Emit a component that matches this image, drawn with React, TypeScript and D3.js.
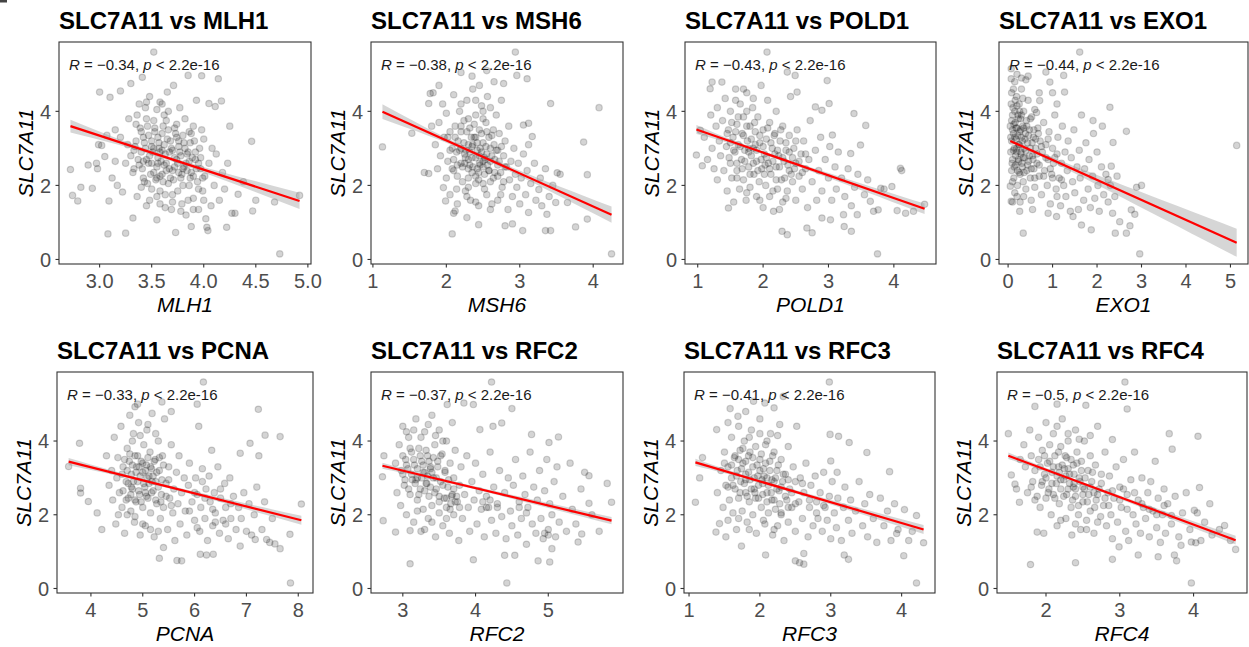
import * as d3 from 'd3';

const W = 1249;
const H = 647;

// one panel per gene, SLC7A11 on the y axis in every panel
const genes = ['MLH1', 'MSH6', 'POLD1', 'EXO1', 'PCNA', 'RFC2', 'RFC3', 'RFC4'];
const rValues = ['−0.34', '−0.38', '−0.43', '−0.44', '−0.33', '−0.37', '−0.41', '−0.5'];
const pText = '2.2e-16';

const xTickLabels = [
  ['3.0', '3.5', '4.0', '4.5', '5.0'],
  ['1', '2', '3', '4'],
  ['1', '2', '3', '4'],
  ['0', '1', '2', '3', '4', '5'],
  ['4', '5', '6', '7', '8'],
  ['3', '4', '5'],
  ['1', '2', '3', '4'],
  ['2', '3', '4'],
];
const yTickLabels = ['0', '2', '4'];

// fitted line ends: x0, y0, x1, y1
const fitLines = [
  [2.72, 3.6, 4.92, 1.58],
  [1.13, 3.99, 4.25, 1.21],
  [0.98, 3.51, 4.47, 1.37],
  [0.05, 3.2, 5.14, 0.45],
  [3.57, 3.44, 8.06, 1.85],
  [2.72, 3.33, 5.87, 1.84],
  [1.09, 3.42, 4.31, 1.6],
  [1.49, 3.6, 4.57, 1.31],
];
// confidence band half width: left end, middle x, middle, right end
const ciWidths = [
  [0.17, 3.65, 0.05, 0.22],
  [0.2, 2.45, 0.05, 0.22],
  [0.12, 2.1, 0.04, 0.14],
  [0.1, 0.8, 0.05, 0.38],
  [0.1, 5.4, 0.04, 0.12],
  [0.08, 3.9, 0.04, 0.1],
  [0.1, 2.2, 0.04, 0.12],
  [0.09, 2.6, 0.04, 0.12],
];

const mlh1Points: [number, number][] = [
  [2.72, 2.43], [2.74, 1.73], [2.79, 1.58], [2.82, 1.95], [2.89, 2.55], [2.93, 1.92], [2.97, 2.6], [2.99, 3.1],
  [3.0, 4.52], [3.02, 3.08], [2.98, 2.45], [3.05, 2.78], [3.07, 3.35], [3.08, 0.69], [3.09, 1.58], [3.1, 4.38],
  [3.12, 2.2], [3.15, 3.5], [3.17, 2.0], [3.2, 4.55], [3.22, 1.82], [3.25, 0.71], [3.27, 3.1], [3.3, 4.75],
  [3.32, 1.12], [3.33, 2.45], [3.35, 3.65], [3.36, 1.7], [3.38, 4.2], [3.4, 2.9], [3.41, 4.92], [3.42, 3.3],
  [3.43, 2.1], [3.45, 1.45], [3.45, 3.8], [3.47, 2.6], [3.48, 4.4], [3.5, 3.2], [3.5, 1.9], [3.52, 5.6],
  [3.52, 2.35], [3.53, 3.55], [3.55, 4.05], [3.55, 1.07], [3.56, 2.75], [3.57, 3.0], [3.58, 2.25], [3.58, 1.5],
  [3.6, 3.4], [3.6, 4.2], [3.62, 2.55], [3.63, 1.75], [3.64, 3.75], [3.65, 4.52], [3.66, 2.05], [3.67, 2.9],
  [3.68, 3.2], [3.69, 1.35], [3.7, 2.4], [3.71, 4.7], [3.72, 3.55], [3.73, 0.73], [3.74, 2.7], [3.75, 1.85],
  [3.76, 3.05], [3.77, 4.1], [3.78, 2.2], [3.79, 1.5], [3.8, 3.35], [3.81, 2.5], [3.82, 3.8], [3.83, 1.2],
  [3.84, 2.85], [3.85, 4.97], [3.86, 2.0], [3.87, 3.15], [3.88, 0.89], [3.88, 2.35], [3.9, 1.65], [3.9, 3.6],
  [3.92, 2.7], [3.93, 4.3], [3.94, 2.1], [3.95, 1.35], [3.96, 3.0], [3.97, 2.45], [3.98, 4.96], [3.99, 1.85],
  [4.0, 3.25], [4.01, 2.25], [4.02, 1.1], [4.03, 0.87], [4.04, 0.78], [4.05, 4.21], [4.05, 2.6], [4.07, 1.45],
  [4.08, 3.0], [4.1, 2.0], [4.11, 4.13], [4.12, 2.85], [4.14, 4.88], [4.15, 1.6], [4.17, 4.28], [4.18, 2.35],
  [4.2, 1.9], [4.22, 0.87], [4.23, 2.6], [4.25, 3.6], [4.27, 1.25], [4.3, 1.25], [4.33, 1.76], [4.38, 2.1],
  [4.46, 3.19], [4.47, 1.31], [4.5, 1.6], [4.68, 1.55], [4.73, 0.15], [4.92, 1.73],
  [3.3, 2.8], [3.35, 3.2], [3.38, 2.55], [3.4, 3.45], [3.42, 2.2], [3.44, 3.0], [3.46, 3.6], [3.48, 2.8],
  [3.5, 2.6], [3.52, 3.0], [3.54, 2.15], [3.56, 3.3], [3.58, 2.9], [3.6, 2.3], [3.62, 3.1], [3.64, 2.6],
  [3.66, 3.5], [3.68, 2.2], [3.7, 2.95], [3.72, 2.5], [3.74, 3.3], [3.76, 2.35], [3.78, 2.8], [3.8, 2.0],
  [3.82, 3.0], [3.84, 2.4], [3.86, 2.65], [3.88, 3.4], [3.9, 2.25], [3.92, 2.9], [3.36, 3.9], [3.44, 4.1],
  [3.62, 3.9], [3.7, 1.75], [3.58, 1.85], [3.48, 1.6], [3.95, 2.6], [3.98, 3.5], [3.25, 2.6], [3.28, 3.8],
  [3.2, 3.3], [3.15, 2.65],
  [3.32, 2.35], [3.34, 3.05], [3.37, 2.7], [3.39, 3.55], [3.41, 2.45], [3.43, 3.15], [3.45, 2.7], [3.47, 3.35],
  [3.49, 2.3], [3.51, 2.9], [3.53, 3.45], [3.55, 2.5], [3.55, 2.2], [3.57, 3.15], [3.59, 2.65], [3.61, 3.6],
  [3.61, 2.1], [3.63, 2.85], [3.65, 3.25], [3.67, 2.45], [3.69, 3.0], [3.71, 2.15], [3.73, 3.4], [3.75, 2.6],
  [3.77, 2.9], [3.79, 2.3], [3.81, 3.15], [3.83, 2.6], [3.85, 2.9], [3.87, 2.2], [3.89, 2.75], [3.91, 3.2],
  [3.93, 2.45], [3.95, 1.9], [3.97, 2.75], [3.99, 2.2], [3.58, 4.25], [3.45, 4.25], [3.66, 4.0], [3.52, 3.75],
  [3.74, 3.65], [3.86, 3.45], [3.4, 1.95], [3.55, 1.7], [3.7, 1.55], [3.85, 1.6], [3.78, 1.3], [3.63, 1.4],
  [3.9, 1.35], [4.0, 1.6], [3.33, 2.95], [3.46, 2.05], [3.6, 2.95], [3.72, 2.75], [3.8, 2.45], [3.5, 3.05],
  [3.64, 2.4], [3.56, 2.6], [3.76, 3.2], [3.42, 2.65],
];

const msh6Points: [number, number][] = [
  [1.13, 3.04], [1.53, 3.41], [1.76, 2.32], [1.76, 4.21], [1.78, 4.48], [1.9, 4.7], [1.96, 1.94], [1.99, 1.58],
  [2.08, 0.69], [2.12, 1.31], [2.28, 1.13], [2.44, 0.94], [2.94, 5.6], [2.96, 4.97], [2.78, 4.75], [3.1, 4.88],
  [3.05, 3.63], [3.12, 3.68], [3.17, 3.32], [3.12, 3.1], [3.04, 0.78], [2.9, 0.96], [2.8, 0.91], [3.12, 1.27],
  [3.26, 1.89], [3.35, 0.78], [3.42, 0.78], [3.37, 1.22], [3.42, 4.21], [3.51, 2.34], [3.49, 1.54], [3.65, 1.54],
  [3.76, 0.88], [3.87, 3.17], [3.92, 2.29], [3.92, 1.09], [4.08, 4.1], [4.25, 0.15],
  [1.85, 3.1], [1.88, 2.45], [1.9, 3.7], [1.92, 2.8], [1.95, 4.2], [1.97, 3.3], [2.0, 2.2], [2.0, 3.95],
  [2.02, 2.65], [2.05, 3.45], [2.05, 1.75], [2.08, 3.0], [2.1, 4.45], [2.1, 2.4], [2.12, 3.6], [2.14, 2.9],
  [2.15, 1.5], [2.16, 3.2], [2.18, 4.0], [2.2, 2.6], [2.2, 3.45], [2.22, 2.1], [2.24, 3.75], [2.25, 2.85],
  [2.26, 1.85], [2.28, 4.3], [2.3, 3.1], [2.3, 2.45], [2.32, 3.55], [2.33, 1.6], [2.35, 2.75], [2.36, 4.6],
  [2.38, 3.3], [2.4, 2.25], [2.4, 3.9], [2.42, 2.95], [2.44, 1.45], [2.45, 3.5], [2.46, 2.55], [2.48, 4.15],
  [2.5, 2.05], [2.5, 3.15], [2.52, 2.75], [2.54, 3.7], [2.55, 1.75], [2.56, 4.4], [2.58, 2.4], [2.6, 3.0],
  [2.6, 1.35], [2.62, 3.35], [2.64, 2.2], [2.65, 4.8], [2.66, 2.7], [2.68, 3.9], [2.7, 1.6], [2.7, 2.95],
  [2.72, 3.4], [2.74, 2.35], [2.75, 4.3], [2.76, 1.95], [2.78, 2.8], [2.8, 3.2], [2.82, 2.5], [2.84, 1.35],
  [2.85, 3.6], [2.86, 2.15], [2.88, 2.65], [2.9, 1.7], [2.92, 3.0], [2.94, 2.3], [2.96, 1.95], [2.98, 2.6],
  [3.0, 1.5], [3.02, 2.2], [3.05, 2.85], [3.08, 1.75], [3.1, 2.4], [3.15, 2.05], [3.2, 2.6], [3.22, 1.6],
  [3.28, 2.2], [3.3, 1.45], [3.35, 2.45], [3.4, 1.7], [3.45, 2.0], [3.55, 2.3], [2.2, 5.05], [2.35, 4.95],
  [2.45, 4.7], [2.55, 5.1], [2.1, 1.25], [2.3, 1.95], [2.4, 3.3], [2.5, 2.5], [2.3, 2.7], [2.2, 3.0],
  [2.5, 3.8], [2.6, 2.65], [2.7, 2.55], [2.4, 2.05], [2.15, 2.55], [2.35, 3.05], [2.45, 2.8], [2.55, 3.45],
  [2.65, 3.1], [1.8, 3.6], [1.82, 4.5], [1.7, 2.35],
  [2.1, 2.7], [2.12, 3.3], [2.15, 2.25], [2.18, 2.95], [2.2, 3.6], [2.22, 2.5], [2.24, 3.15], [2.26, 2.75],
  [2.28, 3.45], [2.3, 2.2], [2.32, 2.9], [2.34, 3.3], [2.36, 2.5], [2.38, 3.65], [2.4, 2.75], [2.42, 3.15],
  [2.44, 2.35], [2.46, 3.0], [2.48, 3.4], [2.5, 2.65], [2.52, 2.3], [2.54, 3.05], [2.56, 2.55], [2.58, 3.3],
  [2.6, 2.1], [2.62, 2.8], [2.64, 3.5], [2.66, 2.35], [2.68, 2.95], [2.7, 2.25], [2.72, 2.65], [2.75, 3.05],
  [2.78, 2.1], [2.8, 2.5], [2.25, 2.6], [2.35, 2.35], [2.45, 2.6], [2.55, 2.85], [2.3, 3.8], [2.4, 4.3],
  [2.5, 4.0], [2.2, 4.2], [2.6, 4.1], [2.28, 1.7], [2.4, 1.55], [2.52, 1.9], [2.62, 1.5], [2.74, 1.75],
  [2.14, 1.9], [2.05, 2.95], [2.08, 2.45], [2.02, 3.3], [2.44, 2.15], [2.36, 3.1], [2.48, 2.9], [2.58, 2.4],
  [2.32, 2.55], [2.42, 2.45], [2.27, 2.95], [2.53, 2.7],
];

const pold1Points: [number, number][] = [
  [0.98, 2.82], [1.04, 3.49], [1.07, 2.53], [1.19, 4.61], [1.22, 4.79], [1.37, 4.79], [1.47, 1.39], [2.06, 5.6],
  [2.37, 5.06], [2.49, 4.97], [2.52, 4.52], [2.98, 4.83], [3.01, 4.21], [2.8, 4.12], [2.9, 4.03], [3.39, 3.94],
  [3.57, 3.62], [3.49, 3.09], [3.34, 2.86], [3.06, 3.36], [2.29, 0.76], [2.37, 0.67], [2.67, 0.85], [2.75, 0.72],
  [2.9, 1.12], [3.03, 1.07], [3.24, 0.89], [3.35, 0.76], [3.23, 1.21], [3.44, 1.21], [3.64, 1.57], [3.69, 1.3],
  [3.76, 1.34], [3.75, 0.15], [3.8, 1.92], [3.97, 1.97], [4.1, 2.46], [4.05, 1.32], [4.18, 1.25], [4.47, 1.49],
  [1.1, 3.3], [1.15, 2.7], [1.2, 3.9], [1.22, 3.0], [1.25, 2.45], [1.28, 3.6], [1.3, 4.1], [1.3, 2.15],
  [1.33, 3.2], [1.35, 2.8], [1.38, 3.75], [1.4, 2.4], [1.42, 4.35], [1.44, 3.05], [1.45, 1.85], [1.47, 3.5],
  [1.5, 2.6], [1.5, 4.0], [1.52, 2.2], [1.54, 3.3], [1.55, 1.55], [1.57, 2.9], [1.58, 4.6], [1.6, 3.65],
  [1.6, 2.4], [1.62, 3.1], [1.64, 1.9], [1.65, 4.2], [1.67, 2.7], [1.68, 3.4], [1.7, 2.15], [1.7, 3.85],
  [1.72, 2.95], [1.74, 1.6], [1.75, 4.5], [1.76, 3.2], [1.78, 2.5], [1.8, 3.6], [1.8, 1.95], [1.82, 2.8],
  [1.84, 4.1], [1.85, 3.0], [1.86, 2.3], [1.88, 3.45], [1.9, 1.7], [1.9, 2.65], [1.92, 3.85], [1.94, 2.1],
  [1.95, 3.15], [1.97, 4.7], [1.98, 2.45], [2.0, 3.5], [2.0, 1.4], [2.02, 2.85], [2.04, 2.0], [2.05, 3.25],
  [2.07, 4.3], [2.08, 2.6], [2.1, 3.7], [2.1, 1.7], [2.12, 2.3], [2.14, 3.0], [2.16, 1.3], [2.18, 3.4],
  [2.2, 2.5], [2.2, 4.0], [2.22, 1.9], [2.24, 2.8], [2.26, 3.2], [2.28, 2.15], [2.3, 3.6], [2.3, 1.55],
  [2.32, 2.65], [2.35, 2.95], [2.37, 1.85], [2.4, 3.35], [2.4, 2.4], [2.42, 4.4], [2.45, 2.1], [2.47, 3.0],
  [2.5, 1.6], [2.5, 2.6], [2.52, 3.5], [2.55, 2.25], [2.58, 2.85], [2.6, 1.9], [2.62, 3.2], [2.65, 2.45],
  [2.68, 1.4], [2.7, 2.7], [2.72, 3.75], [2.75, 2.1], [2.8, 2.95], [2.82, 1.6], [2.85, 2.4], [2.88, 3.3],
  [2.9, 1.85], [2.95, 2.7], [3.0, 2.2], [3.02, 3.05], [3.05, 1.6], [3.1, 2.5], [3.12, 1.9], [3.15, 2.9],
  [3.2, 2.2], [3.25, 1.7], [3.3, 2.45], [3.35, 1.45], [3.4, 1.95], [3.45, 2.3], [3.55, 1.75], [3.6, 2.15],
  [3.85, 1.9], [4.3, 1.3], [4.12, 2.4],
  [1.45, 3.4], [1.48, 2.75], [1.52, 3.7], [1.55, 2.95], [1.58, 3.45], [1.6, 2.6], [1.62, 3.85], [1.65, 3.05],
  [1.68, 2.45], [1.7, 3.35], [1.72, 2.65], [1.75, 3.6], [1.78, 2.9], [1.8, 2.3], [1.82, 3.25], [1.85, 2.6],
  [1.87, 3.7], [1.9, 2.95], [1.92, 2.4], [1.95, 3.35], [1.97, 2.7], [2.0, 3.05], [2.02, 2.3], [2.05, 2.75],
  [2.07, 3.55], [2.1, 2.45], [2.12, 3.15], [2.15, 2.65], [2.17, 3.35], [2.2, 2.15], [2.22, 2.95], [2.25, 2.5],
  [2.27, 3.5], [2.3, 2.75], [2.33, 2.2], [2.35, 3.15], [2.38, 2.55], [2.4, 2.9], [2.43, 2.3], [2.45, 2.75],
  [2.48, 2.45], [2.5, 3.2], [2.55, 2.65], [2.6, 2.35], [2.65, 2.85], [1.58, 4.3], [1.7, 4.6], [1.75, 4.0],
  [1.85, 4.35], [1.6, 2.2], [1.75, 1.8], [1.95, 1.6], [2.15, 1.85], [2.25, 1.35], [2.35, 1.65], [1.5, 3.15],
  [1.88, 3.1], [2.03, 2.55], [1.78, 3.0], [2.18, 2.85],
];

const exo1Points: [number, number][] = [
  [1.61, 5.6], [0.34, 0.71], [2.96, 0.15], [5.14, 3.08], [2.29, 4.11], [2.66, 0.71], [2.41, 0.71], [2.51, 1.02],
  [2.74, 0.91], [2.77, 1.34], [2.85, 1.22], [2.89, 1.95], [3.0, 2.0], [2.66, 3.46], [2.36, 3.16], [2.32, 2.52],
  [2.25, 2.16], [1.91, 3.75], [1.87, 0.8], [1.65, 0.93], [1.46, 1.16], [1.27, 4.52], [1.25, 4.97], [0.94, 4.79],
  [0.85, 5.06], [0.45, 4.95], [0.71, 4.29], [0.64, 3.97], [0.9, 1.25], [1.09, 1.16], [0.26, 1.3], [0.07, 1.57],
  [0.05, 1.98], [0.07, 4.88], [0.07, 5.15],
  [0.05, 3.6], [0.06, 2.9], [0.07, 4.2], [0.08, 3.2], [0.08, 2.4], [0.1, 3.9], [0.1, 2.7], [0.12, 4.6],
  [0.12, 3.4], [0.13, 2.2], [0.14, 3.0], [0.15, 4.0], [0.15, 1.8], [0.16, 3.7], [0.17, 2.55], [0.18, 3.25],
  [0.19, 4.4], [0.2, 2.9], [0.2, 3.55], [0.21, 2.0], [0.22, 3.9], [0.23, 2.7], [0.24, 3.1], [0.25, 4.2],
  [0.25, 2.35], [0.26, 3.45], [0.27, 1.55], [0.28, 3.8], [0.29, 2.85], [0.3, 3.3], [0.3, 4.6], [0.32, 2.5],
  [0.33, 3.6], [0.34, 2.1], [0.35, 4.0], [0.36, 3.0], [0.38, 2.75], [0.39, 3.4], [0.4, 1.9], [0.41, 3.75],
  [0.42, 2.4], [0.44, 3.15], [0.45, 4.3], [0.46, 2.65], [0.48, 3.5], [0.5, 2.2], [0.5, 3.0], [0.52, 1.6],
  [0.53, 3.85], [0.55, 2.8], [0.57, 3.3], [0.58, 2.45], [0.6, 4.05], [0.6, 1.95], [0.62, 3.0], [0.65, 2.6],
  [0.67, 3.55], [0.7, 2.25], [0.72, 3.2], [0.75, 1.75], [0.77, 2.9], [0.8, 3.7], [0.82, 2.4], [0.85, 3.1],
  [0.88, 2.0], [0.9, 2.7], [0.92, 3.45], [0.95, 1.5], [0.98, 2.3], [1.0, 3.0], [1.02, 2.6], [1.05, 3.9],
  [1.08, 1.9], [1.1, 2.85], [1.12, 3.3], [1.15, 2.2], [1.18, 1.45], [1.2, 2.6], [1.22, 3.6], [1.25, 2.0],
  [1.28, 2.9], [1.3, 1.7], [1.33, 2.4], [1.35, 3.2], [1.4, 1.3], [1.42, 2.75], [1.45, 2.1], [1.48, 3.5],
  [1.5, 1.8], [1.55, 2.5], [1.58, 1.35], [1.6, 2.95], [1.62, 2.2], [1.65, 3.9], [1.7, 1.6], [1.72, 2.45],
  [1.75, 3.15], [1.8, 1.9], [1.82, 2.7], [1.85, 1.4], [1.9, 2.25], [1.92, 3.4], [1.95, 1.65], [2.0, 2.9],
  [2.02, 2.0], [2.05, 1.3], [2.1, 2.5], [2.12, 3.6], [2.15, 1.75], [2.2, 2.3], [2.25, 1.55], [2.3, 2.0],
  [2.35, 1.25], [2.4, 1.7], [2.45, 2.25], [0.1, 1.55], [0.35, 1.7], [0.55, 1.35], [0.7, 4.5], [1.0, 4.5],
  [1.1, 4.2], [0.2, 5.0], [0.4, 4.85],
  [0.06, 3.3], [0.08, 3.75], [0.09, 2.6], [0.1, 3.5], [0.11, 4.1], [0.12, 2.95], [0.13, 3.65], [0.14, 2.5],
  [0.15, 3.3], [0.16, 4.3], [0.17, 2.8], [0.18, 3.55], [0.19, 3.0], [0.2, 4.15], [0.21, 2.4], [0.22, 3.35],
  [0.23, 3.8], [0.24, 2.65], [0.25, 3.1], [0.26, 4.0], [0.27, 2.3], [0.28, 3.5], [0.29, 2.9], [0.3, 3.9],
  [0.31, 2.6], [0.32, 3.2], [0.33, 4.35], [0.34, 2.75], [0.35, 3.55], [0.36, 2.35], [0.38, 3.25], [0.4, 2.95],
  [0.42, 3.6], [0.44, 2.55], [0.46, 3.35], [0.48, 2.8], [0.5, 3.8], [0.52, 2.45], [0.54, 3.15], [0.56, 2.7],
  [0.58, 3.5], [0.6, 2.2], [0.62, 3.25], [0.65, 2.85], [0.68, 3.4], [0.7, 2.55], [0.75, 3.05], [0.8, 2.25],
  [0.85, 2.75], [0.9, 3.25], [0.95, 2.45], [1.0, 2.2], [1.05, 2.75], [1.1, 1.7], [1.2, 2.15], [0.1, 2.1],
  [0.2, 1.7], [0.15, 4.8], [0.3, 4.9], [0.08, 4.5],
];

const pcnaPoints: [number, number][] = [
  [3.57, 3.31], [3.78, 3.94], [3.8, 2.72], [3.8, 2.59], [3.95, 2.36], [4.12, 2.05], [4.21, 1.6], [4.53, 2.0],
  [6.17, 5.6], [5.37, 5.06], [4.85, 4.93], [7.23, 4.86], [7.36, 4.16], [7.65, 4.12], [7.07, 3.94], [7.24, 3.6],
  [6.88, 3.67], [8.06, 2.29], [7.84, 1.47], [7.65, 1.08], [7.55, 1.21], [7.85, 0.15], [7.39, 1.33], [7.17, 1.33],
  [6.88, 1.15], [6.23, 0.91], [6.11, 0.93], [6.36, 0.93], [5.75, 0.75], [5.66, 0.76], [5.32, 0.82], [5.4, 1.11],
  [4.3, 3.6], [4.35, 2.8], [4.4, 3.2], [4.42, 2.4], [4.45, 4.1], [4.48, 1.75], [4.5, 3.0], [4.52, 3.55],
  [4.55, 2.6], [4.58, 4.4], [4.6, 2.2], [4.62, 3.3], [4.65, 1.5], [4.68, 2.9], [4.7, 3.8], [4.72, 2.45],
  [4.74, 3.45], [4.75, 4.7], [4.77, 2.1], [4.78, 3.1], [4.8, 2.7], [4.82, 4.2], [4.84, 1.8], [4.85, 3.6],
  [4.87, 2.35], [4.88, 3.3], [4.9, 2.9], [4.92, 4.5], [4.94, 2.55], [4.95, 1.45], [4.97, 3.45], [5.0, 2.2],
  [5.0, 3.15], [5.02, 3.9], [5.04, 2.75], [5.05, 1.7], [5.07, 3.35], [5.08, 4.3], [5.1, 2.45], [5.12, 3.05],
  [5.14, 3.7], [5.15, 2.05], [5.17, 3.25], [5.18, 4.75], [5.2, 2.65], [5.22, 1.4], [5.24, 3.5], [5.25, 2.9],
  [5.27, 2.3], [5.3, 4.0], [5.32, 3.2], [5.34, 1.9], [5.36, 2.55], [5.38, 3.6], [5.4, 2.2], [5.42, 4.6],
  [5.45, 2.85], [5.48, 1.6], [5.5, 3.3], [5.52, 2.45], [5.55, 3.9], [5.58, 2.05], [5.6, 2.7], [5.62, 1.3],
  [5.65, 3.15], [5.68, 2.3], [5.7, 3.6], [5.72, 1.75], [5.75, 2.6], [5.8, 3.0], [5.82, 2.1], [5.85, 1.45],
  [5.88, 2.8], [5.9, 3.4], [5.95, 2.35], [6.0, 1.85], [6.02, 3.0], [6.05, 2.55], [6.08, 4.4], [6.1, 1.55],
  [6.12, 2.2], [6.15, 3.25], [6.2, 1.9], [6.22, 2.7], [6.25, 1.3], [6.28, 3.05], [6.3, 2.35], [6.33, 3.75],
  [6.35, 1.7], [6.38, 2.6], [6.4, 2.05], [6.45, 3.3], [6.48, 1.5], [6.5, 2.45], [6.55, 1.85], [6.58, 2.85],
  [6.6, 2.2], [6.65, 1.35], [6.68, 3.0], [6.7, 1.9], [6.75, 2.5], [6.8, 1.6], [6.85, 2.2], [6.9, 1.9],
  [6.95, 2.6], [7.0, 1.55], [7.05, 2.3], [7.1, 1.45], [7.15, 2.0], [7.2, 2.75], [7.3, 1.6], [7.35, 2.35],
  [7.45, 1.25], [7.5, 1.9], [4.9, 5.0], [5.55, 4.8], [6.05, 5.0],
  [4.6, 3.1], [4.62, 2.65], [4.65, 3.5], [4.68, 2.4], [4.7, 3.2], [4.72, 2.85], [4.75, 3.65], [4.77, 2.55],
  [4.8, 3.35], [4.82, 2.9], [4.85, 2.4], [4.87, 3.15], [4.9, 3.6], [4.92, 2.65], [4.95, 3.05], [4.97, 2.35],
  [5.0, 3.4], [5.02, 2.85], [5.05, 3.2], [5.07, 2.5], [5.1, 3.55], [5.12, 2.85], [5.15, 3.3], [5.17, 2.6],
  [5.2, 3.05], [5.22, 3.45], [5.25, 2.4], [5.27, 3.15], [5.3, 2.75], [5.32, 3.55], [5.35, 2.35], [5.37, 2.95],
  [5.4, 3.35], [5.45, 2.5], [5.5, 2.95], [5.55, 2.25], [4.8, 4.0], [4.95, 4.15], [5.1, 4.45], [5.25, 4.2],
  [4.7, 2.0], [4.85, 1.95], [5.0, 1.75], [5.15, 1.6], [5.3, 1.55], [5.05, 2.6], [4.93, 3.3], [5.18, 2.9],
  [4.78, 2.75], [5.08, 3.0], [6.0, 2.6], [6.2, 2.45], [6.35, 2.15], [6.5, 2.7], [6.15, 2.9], [6.4, 1.8],
  [6.6, 1.75], [5.9, 2.1], [6.05, 1.65], [6.7, 2.3],
];

const rfc2Points: [number, number][] = [
  [2.72, 3.03], [2.73, 1.84], [2.74, 3.6], [2.9, 1.53], [3.1, 0.67], [3.1, 1.57], [4.22, 5.6], [3.61, 4.99],
  [3.84, 5.03], [3.97, 4.99], [4.5, 4.88], [4.36, 4.49], [4.24, 4.4], [4.06, 4.31], [4.77, 4.18], [5.14, 4.11],
  [5.01, 3.96], [4.43, 0.15], [4.4, 0.9], [4.54, 0.9], [3.97, 0.78], [4.86, 0.75], [5.02, 0.72], [5.05, 1.08],
  [5.87, 2.34], [5.81, 2.85], [5.56, 3.06], [5.56, 2.31], [5.41, 1.26], [5.46, 1.48],
  [2.9, 3.4], [2.92, 2.6], [2.95, 3.9], [2.97, 2.25], [3.0, 3.1], [3.0, 4.4], [3.02, 2.8], [3.04, 3.5],
  [3.05, 2.0], [3.07, 3.25], [3.08, 4.1], [3.1, 2.55], [3.12, 3.7], [3.13, 2.95], [3.15, 1.8], [3.16, 3.35],
  [3.18, 4.6], [3.2, 2.4], [3.2, 3.0], [3.22, 3.8], [3.24, 2.7], [3.25, 1.55], [3.26, 3.45], [3.28, 2.15],
  [3.3, 3.15], [3.3, 4.25], [3.32, 2.85], [3.34, 3.6], [3.35, 1.9], [3.36, 2.5], [3.38, 3.3], [3.4, 4.7],
  [3.4, 2.25], [3.42, 3.0], [3.44, 3.9], [3.45, 1.4], [3.46, 2.7], [3.48, 3.45], [3.5, 2.05], [3.5, 4.3],
  [3.52, 2.9], [3.54, 3.65], [3.55, 1.7], [3.57, 2.45], [3.58, 3.2], [3.6, 4.0], [3.6, 2.2], [3.62, 2.75],
  [3.64, 1.5], [3.65, 3.4], [3.67, 2.5], [3.68, 4.5], [3.7, 2.0], [3.7, 3.0], [3.72, 3.75], [3.75, 2.35],
  [3.77, 1.3], [3.78, 2.8], [3.8, 3.3], [3.82, 1.9], [3.85, 2.55], [3.88, 3.6], [3.9, 2.2], [3.92, 1.55],
  [3.95, 2.9], [3.98, 2.4], [4.0, 3.4], [4.02, 1.75], [4.05, 2.65], [4.08, 2.15], [4.1, 3.1], [4.12, 1.4],
  [4.15, 2.5], [4.18, 2.2], [4.2, 3.7], [4.22, 1.85], [4.25, 2.75], [4.28, 1.5], [4.3, 2.3], [4.33, 3.2],
  [4.36, 1.95], [4.4, 2.6], [4.42, 1.35], [4.45, 3.0], [4.48, 2.1], [4.5, 1.7], [4.52, 2.8], [4.55, 3.5],
  [4.58, 1.45], [4.6, 2.35], [4.63, 1.9], [4.65, 3.05], [4.68, 2.55], [4.7, 1.2], [4.72, 2.2], [4.75, 3.7],
  [4.78, 1.75], [4.8, 2.75], [4.83, 1.5], [4.85, 2.4], [4.88, 3.2], [4.9, 1.9], [4.93, 1.35], [4.95, 2.65],
  [4.98, 3.5], [5.0, 1.6], [5.02, 2.3], [5.05, 2.0], [5.08, 2.9], [5.1, 1.4], [5.12, 3.3], [5.15, 1.8],
  [5.2, 2.5], [5.25, 1.55], [5.3, 3.4], [5.33, 2.15], [5.38, 1.75], [5.45, 2.7], [5.5, 3.15], [5.6, 2.0],
  [5.7, 1.55],
  [2.98, 3.2], [3.0, 3.6], [3.03, 2.95], [3.05, 3.35], [3.08, 2.7], [3.1, 3.8], [3.12, 3.1], [3.15, 3.5],
  [3.17, 2.85], [3.2, 3.25], [3.22, 2.55], [3.24, 3.6], [3.26, 3.0], [3.28, 3.35], [3.3, 2.65], [3.32, 3.75],
  [3.34, 3.05], [3.36, 3.45], [3.38, 2.75], [3.4, 3.15], [3.42, 3.55], [3.44, 2.6], [3.46, 3.0], [3.48, 3.3],
  [3.5, 2.5], [3.52, 3.6], [3.55, 2.8], [3.58, 3.15], [3.6, 2.45], [3.63, 2.95], [3.66, 2.3], [3.7, 2.7],
  [3.74, 2.5], [3.78, 2.2], [3.25, 4.1], [3.45, 4.15], [3.35, 4.45], [3.15, 4.3], [3.55, 4.0], [3.05, 4.25],
  [3.2, 2.1], [3.4, 1.8], [3.6, 1.9], [3.3, 1.6], [3.5, 2.35], [3.65, 2.15], [3.72, 2.35], [3.68, 2.55],
  [4.1, 2.35], [4.15, 2.2], [4.2, 2.4], [4.3, 2.2], [4.6, 2.2], [4.7, 2.05], [5.0, 1.45], [4.95, 1.5],
  [3.18, 2.95], [3.33, 2.85], [3.28, 3.15], [3.38, 3.25],
];

const rfc3Points: [number, number][] = [
  [1.09, 2.34], [1.15, 3.0], [1.19, 3.55], [1.39, 4.31], [1.38, 1.53], [1.43, 1.76], [1.52, 1.4], [1.55, 1.85],
  [1.74, 1.15], [1.58, 4.88], [1.69, 4.67], [1.91, 5.08], [2.07, 5.03], [2.33, 5.21], [2.98, 5.6], [2.99, 4.18],
  [3.11, 4.13], [3.26, 3.96], [3.51, 3.69], [3.83, 3.17], [3.0, 3.46], [3.09, 3.15], [2.08, 0.91], [2.5, 0.75],
  [2.56, 0.7], [2.62, 0.66], [2.62, 0.95], [3.19, 0.91], [3.25, 0.79], [4.03, 0.89], [4.21, 0.15], [4.31, 1.24],
  [4.21, 1.98], [4.04, 2.14], [3.93, 1.49],
  [1.4, 2.6], [1.45, 3.2], [1.48, 2.2], [1.5, 3.7], [1.52, 2.8], [1.55, 3.3], [1.57, 2.4], [1.6, 4.1],
  [1.6, 3.0], [1.62, 2.05], [1.64, 3.55], [1.65, 2.7], [1.67, 1.6], [1.68, 3.2], [1.7, 4.4], [1.7, 2.45],
  [1.72, 3.75], [1.73, 2.9], [1.75, 2.1], [1.76, 3.4], [1.78, 4.0], [1.8, 2.6], [1.8, 3.1], [1.82, 1.8],
  [1.84, 3.6], [1.85, 2.35], [1.86, 2.95], [1.88, 4.3], [1.9, 3.3], [1.9, 2.0], [1.92, 2.7], [1.94, 3.85],
  [1.95, 1.5], [1.97, 3.05], [1.98, 2.45], [2.0, 3.5], [2.0, 4.6], [2.02, 2.2], [2.04, 2.85], [2.05, 3.25],
  [2.07, 1.75], [2.08, 3.9], [2.1, 2.6], [2.1, 3.0], [2.12, 2.05], [2.14, 3.45], [2.15, 4.2], [2.17, 2.4],
  [2.18, 1.45], [2.2, 2.9], [2.2, 3.7], [2.22, 2.15], [2.24, 3.2], [2.25, 1.7], [2.27, 2.65], [2.28, 4.45],
  [2.3, 3.5], [2.3, 2.0], [2.32, 2.9], [2.34, 1.3], [2.36, 3.1], [2.38, 2.4], [2.4, 3.85], [2.4, 1.8],
  [2.42, 2.7], [2.45, 2.2], [2.47, 3.3], [2.5, 1.55], [2.5, 2.9], [2.52, 4.4], [2.55, 2.35], [2.57, 3.0],
  [2.6, 1.9], [2.62, 2.6], [2.65, 3.4], [2.68, 1.4], [2.7, 2.2], [2.72, 2.8], [2.75, 1.7], [2.78, 3.05],
  [2.8, 2.35], [2.82, 1.9], [2.85, 2.6], [2.88, 1.55], [2.9, 3.15], [2.92, 2.2], [2.95, 1.85], [2.98, 2.5],
  [3.0, 1.35], [3.02, 2.9], [3.05, 2.05], [3.08, 1.65], [3.1, 2.45], [3.15, 1.3], [3.18, 2.2], [3.2, 2.75],
  [3.25, 1.85], [3.28, 2.4], [3.3, 1.5], [3.35, 2.1], [3.4, 2.9], [3.45, 1.7], [3.48, 2.3], [3.52, 1.4],
  [3.55, 2.55], [3.6, 1.9], [3.65, 1.25], [3.7, 2.45], [3.75, 1.7], [3.8, 2.1], [3.85, 1.3], [3.9, 2.3],
  [3.95, 1.6], [4.1, 1.3], [4.15, 1.55], [1.55, 4.5], [1.8, 4.8], [2.2, 4.9],
  [1.6, 3.35], [1.62, 2.8], [1.65, 3.6], [1.67, 3.05], [1.7, 3.5], [1.72, 2.6], [1.74, 3.25], [1.76, 3.8],
  [1.78, 2.85], [1.8, 3.45], [1.82, 2.5], [1.84, 3.15], [1.86, 3.7], [1.88, 2.7], [1.9, 3.55], [1.92, 3.0],
  [1.94, 2.45], [1.96, 3.35], [1.98, 2.8], [2.0, 3.2], [2.02, 3.65], [2.04, 2.55], [2.06, 3.05], [2.08, 3.4],
  [2.1, 2.35], [2.12, 2.8], [2.14, 3.2], [2.16, 2.6], [2.18, 3.6], [2.2, 2.4], [2.22, 3.0], [2.24, 2.7],
  [2.26, 3.35], [2.28, 2.3], [2.3, 2.75], [2.33, 3.1], [2.36, 2.5], [2.4, 2.95], [2.45, 2.6], [2.5, 2.3],
  [1.85, 4.1], [2.0, 4.2], [2.1, 4.0], [2.25, 4.15], [1.7, 1.9], [1.85, 1.6], [2.05, 1.85], [2.2, 1.6],
  [1.55, 2.75], [1.5, 3.4], [2.6, 2.85], [2.7, 2.4], [2.8, 2.05], [2.9, 2.25], [2.3, 2.05], [2.4, 2.2],
  [1.93, 2.6], [2.03, 2.95], [1.8, 2.95], [2.17, 2.95],
];

const rfc4Points: [number, number][] = [
  [1.49, 4.2], [1.53, 3.08], [1.58, 2.83], [1.64, 2.34], [1.79, 0.65], [1.88, 1.53], [1.85, 4.94], [2.15, 5.0],
  [2.54, 4.97], [3.07, 5.6], [3.1, 4.87], [2.9, 4.04], [3.67, 4.2], [3.71, 3.78], [4.06, 4.13], [4.08, 2.74],
  [4.22, 2.3], [4.01, 2.12], [3.97, 0.15], [4.57, 1.06], [4.42, 1.71], [4.03, 1.24], [3.97, 1.26], [3.74, 0.91],
  [3.77, 0.75], [3.52, 0.86], [3.25, 0.91], [2.9, 0.79], [2.4, 0.7], [2.99, 1.13], [3.83, 1.17], [3.7, 1.98],
  [1.7, 3.9], [1.72, 3.3], [1.75, 2.6], [1.78, 4.3], [1.8, 3.6], [1.82, 2.9], [1.85, 3.2], [1.88, 2.5],
  [1.9, 4.1], [1.9, 3.5], [1.92, 2.2], [1.94, 2.8], [1.95, 3.75], [1.97, 1.5], [1.98, 3.1], [2.0, 4.5],
  [2.0, 2.45], [2.02, 3.4], [2.04, 2.7], [2.05, 3.9], [2.07, 2.0], [2.08, 3.15], [2.1, 2.55], [2.1, 4.2],
  [2.12, 3.6], [2.14, 2.85], [2.15, 1.7], [2.17, 3.3], [2.18, 2.3], [2.2, 3.85], [2.2, 2.95], [2.22, 4.6],
  [2.24, 2.5], [2.25, 3.25], [2.27, 1.9], [2.28, 3.55], [2.3, 2.7], [2.3, 4.0], [2.32, 3.1], [2.34, 2.2],
  [2.35, 1.45], [2.37, 3.35], [2.38, 2.85], [2.4, 4.3], [2.4, 2.5], [2.42, 3.7], [2.44, 2.0], [2.45, 3.0],
  [2.47, 1.6], [2.48, 3.45], [2.5, 2.35], [2.5, 2.75], [2.52, 4.0], [2.55, 1.85], [2.57, 3.2], [2.58, 2.55],
  [2.6, 3.6], [2.6, 2.1], [2.62, 2.9], [2.65, 1.5], [2.67, 3.35], [2.68, 2.4], [2.7, 4.4], [2.72, 2.7],
  [2.74, 1.95], [2.75, 3.1], [2.78, 2.25], [2.8, 3.7], [2.82, 1.7], [2.84, 2.6], [2.86, 3.05], [2.88, 2.0],
  [2.9, 1.35], [2.92, 2.45], [2.95, 3.3], [2.97, 1.8], [3.0, 2.75], [3.02, 2.2], [3.05, 3.5], [3.08, 1.55],
  [3.1, 2.55], [3.12, 1.3], [3.15, 2.95], [3.18, 2.0], [3.2, 3.7], [3.22, 1.75], [3.25, 2.4], [3.28, 1.5],
  [3.3, 3.0], [3.32, 2.2], [3.35, 1.9], [3.38, 2.6], [3.4, 1.4], [3.42, 2.9], [3.45, 2.1], [3.48, 3.45],
  [3.5, 1.65], [3.52, 2.45], [3.55, 1.25], [3.58, 2.0], [3.6, 2.7], [3.62, 1.5], [3.65, 2.3], [3.7, 1.75],
  [3.75, 2.5], [3.8, 1.4], [3.85, 2.05], [3.9, 2.6], [3.95, 1.6], [4.05, 2.05], [4.1, 1.3], [4.15, 1.8],
  [4.25, 1.45], [4.35, 1.6], [4.5, 1.3], [1.65, 3.5], [1.6, 2.7],
  [1.92, 3.3], [1.95, 2.9], [1.98, 3.6], [2.0, 3.0], [2.03, 2.6], [2.05, 3.45], [2.08, 2.85], [2.1, 3.3],
  [2.12, 2.45], [2.15, 3.05], [2.17, 3.7], [2.2, 2.7], [2.22, 3.35], [2.24, 2.95], [2.26, 3.6], [2.28, 2.55],
  [2.3, 3.25], [2.32, 2.85], [2.34, 3.5], [2.36, 2.4], [2.38, 3.1], [2.4, 2.7], [2.42, 3.4], [2.44, 2.25],
  [2.46, 2.9], [2.48, 3.2], [2.5, 2.55], [2.53, 3.0], [2.56, 2.35], [2.6, 2.75], [2.63, 3.15], [2.66, 2.2],
  [2.7, 2.55], [2.75, 2.85], [2.8, 2.45], [2.85, 2.25], [2.3, 4.2], [2.45, 4.05], [2.15, 4.4], [2.6, 4.15],
  [2.2, 1.85], [2.4, 1.75], [2.55, 1.6], [2.7, 1.8], [1.85, 2.4], [1.8, 2.75], [3.0, 2.4], [3.1, 2.15],
  [3.2, 2.6], [3.3, 2.3], [3.4, 2.15], [3.5, 2.0], [2.27, 3.05], [2.37, 2.75], [2.18, 3.15], [2.52, 2.7],
  [2.65, 2.6], [2.9, 2.65], [3.05, 2.7], [3.6, 2.25],
];

const panelPoints = [mlh1Points, msh6Points, pold1Points, exo1Points, pcnaPoints, rfc2Points, rfc3Points, rfc4Points];

// plot box of every panel, in page pixels
const boxes = [
  { left: 59, right: 311, top: 42, bottom: 264 },
  { left: 371, right: 623, top: 42, bottom: 264 },
  { left: 685, right: 936, top: 42, bottom: 264 },
  { left: 999, right: 1248, top: 42, bottom: 264 },
  { left: 57, right: 313, top: 372, bottom: 593 },
  { left: 371, right: 623, top: 372, bottom: 593 },
  { left: 684, right: 935, top: 372, bottom: 593 },
  { left: 997, right: 1247, top: 372, bottom: 593 },
];

const font = "'Liberation Sans', Arial, sans-serif";

// ggplot style 5% padding around the data
function padded(vals: number[]): [number, number] {
  const [lo, hi] = d3.extent(vals) as [number, number];
  const pad = (hi - lo) * 0.05;
  return [lo - pad, hi + pad];
}

function Panel({ i }: { i: number }) {
  const b = boxes[i];
  const pts = panelPoints[i];
  const x = d3.scaleLinear().domain(padded(pts.map((d) => d[0]))).range([b.left, b.right]);
  const y = d3.scaleLinear().domain(padded(pts.map((d) => d[1]))).range([b.bottom, b.top]);

  const [x0, y0, x1, y1] = fitLines[i];
  const [hwL, xm, hwM, hwR] = ciWidths[i];
  const ym = y0 + ((y1 - y0) * (xm - x0)) / (x1 - x0);
  const bandData = [
    [x0, y0, hwL],
    [xm, ym, hwM],
    [x1, y1, hwR],
  ];
  const band = d3
    .area<number[]>()
    .x((d) => x(d[0]))
    .y0((d) => y(d[1] - d[2]))
    .y1((d) => y(d[1] + d[2]))
    .curve(d3.curveNatural);

  const cx = (b.left + b.right) / 2;
  const cy = (b.top + b.bottom) / 2;

  return (
    <g>
      <text x={b.left} y={b.top - 13} fontFamily={font} fontSize={24} fontWeight="bold" fill="#000">
        {'SLC7A11 vs ' + genes[i]}
      </text>

      {pts.map((d, k) => (
        <circle
          key={k}
          cx={x(d[0])}
          cy={y(d[1])}
          r={3.2}
          fill="#000"
          fillOpacity={0.17}
          stroke="#000"
          strokeOpacity={0.17}
          strokeWidth={1.2}
        />
      ))}

      <path d={band(bandData) || ''} fill="#999" fillOpacity={0.4} />
      <line x1={x(x0)} y1={y(y0)} x2={x(x1)} y2={y(y1)} stroke="#ff0000" strokeWidth={2.2} />

      <text x={b.left + 10} y={b.top + 28} fontFamily={font} fontSize={15} fill="#1a1a1a">
        <tspan fontStyle="italic">R</tspan>
        {' = ' + rValues[i] + ', '}
        <tspan fontStyle="italic">p</tspan>
        {' < ' + pText}
      </text>

      <rect x={b.left} y={b.top} width={b.right - b.left} height={b.bottom - b.top} fill="none" stroke="#333" strokeWidth={1.1} />

      {yTickLabels.map((t) => (
        <g key={t}>
          <line x1={b.left - 3.5} x2={b.left} y1={y(+t)} y2={y(+t)} stroke="#333" strokeWidth={1.1} />
          <text x={b.left - 8} y={y(+t)} dy="0.36em" textAnchor="end" fontFamily={font} fontSize={20} fill="#4d4d4d">
            {t}
          </text>
        </g>
      ))}
      {xTickLabels[i].map((t) => (
        <g key={t}>
          <line x1={x(+t)} x2={x(+t)} y1={b.bottom} y2={b.bottom + 3.5} stroke="#333" strokeWidth={1.1} />
          <text x={x(+t)} y={b.bottom + 24} textAnchor="middle" fontFamily={font} fontSize={20} fill="#4d4d4d">
            {t}
          </text>
        </g>
      ))}

      <text x={cx} y={b.bottom + 48} textAnchor="middle" fontFamily={font} fontSize={21} fontStyle="italic" fill="#000">
        {genes[i]}
      </text>
      <text
        transform={`translate(${b.left - 26},${cy}) rotate(-90)`}
        textAnchor="middle"
        fontFamily={font}
        fontSize={21}
        fontStyle="italic"
        fill="#000"
      >
        SLC7A11
      </text>
    </g>
  );
}

export default function App() {
  return (
    <svg width={W} height={H} style={{ position: 'absolute', left: 0, top: 0, background: '#fff' }}>
      <rect x={0} y={0} width={W} height={H} fill="#fff" />
      <rect x={0} y={0} width={7} height={2.5} fill="#444" />
      {genes.map((g, i) => (
        <Panel key={g} i={i} />
      ))}
    </svg>
  );
}
